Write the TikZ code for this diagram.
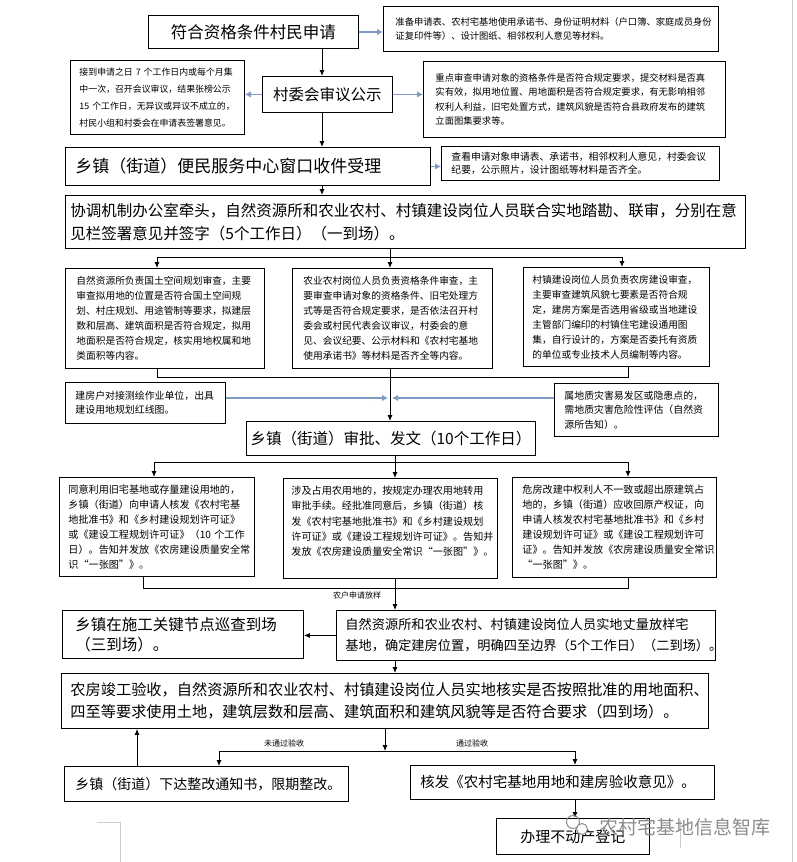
\documentclass[tikz,border=0pt]{standalone}
\usepackage{fontspec}
\setmainfont{Noto Sans CJK SC}
\usetikzlibrary{arrows.meta}
\definecolor{arrowblue}{RGB}{125,155,196}
\definecolor{wmgray}{RGB}{140,140,140}
\definecolor{markgray}{RGB}{205,205,205}
\newcommand{\myfs}[2]{\fontsize{#1}{#2}\selectfont}
\begin{document}
\begin{tikzpicture}[x=1pt,y=-1pt,
  box/.style={draw, line width=0.9pt, rectangle, anchor=north west, inner ysep=0pt},
  conn/.style={line width=0.9pt},
  arr/.style={line width=0.9pt, -{Latex[length=6pt,width=5pt]}},
  barr/.style={line width=1.8pt, draw=arrowblue, -{Latex[length=6pt,width=6.5pt]}},
  lbl/.style={font=\myfs{8}{9}, inner sep=0pt},
]
\useasboundingbox (0,0) rectangle (796,862);
\fill[white] (0,0) rectangle (796,862);

% ---------- boxes ----------
\node[box, minimum width=210pt, minimum height=33pt, font=\myfs{16.5}{20}] (b1) at (148,15) {符合资格条件村民申请};
\node[box, minimum width=335pt, minimum height=45pt, inner xsep=12pt, text width=311pt, align=left, font=\myfs{9.3}{13.5}] (b2) at (383,6)
  {准备申请表、农村宅基地使用承诺书、身份证明材料（户口簿、家庭成员身份\\证复印件等）、设计图纸、相邻权利人意见等材料。};
\node[box, minimum width=130pt, minimum height=36pt, font=\myfs{15.5}{18}] (b3) at (262,76) {村委会审议公示};
\node[box, minimum width=174pt, minimum height=74pt, inner xsep=9pt, text width=156pt, align=left, font=\myfs{8.9}{17}] (b4) at (70,60)
  {接到申请之日 7 个工作日内或每个月集\\中一次，召开会议审议，结果张榜公示\\15 个工作日，无异议或异议不成立的，\\村民小组和村委会在申请表签署意见。};
\node[box, minimum width=302pt, minimum height=76pt, inner xsep=12pt, text width=278pt, align=left, font=\myfs{9.3}{14.5}] (b5) at (423,61)
  {重点审查申请对象的资格条件是否符合规定要求，提交材料是否真\\实有效，拟用地位置、用地面积是否符合规定要求，有无影响相邻\\权利人利益，旧宅处置方式，建筑风貌是否符合县政府发布的建筑\\立面图集要求等。};
\node[box, minimum width=365pt, minimum height=38pt, inner xsep=10pt, text width=345pt, align=left, font=\myfs{17}{20}] (b6) at (65,147)
  {乡镇（街道）便民服务中心窗口收件受理};
\node[box, minimum width=278pt, minimum height=34pt, inner xsep=10pt, text width=258pt, align=left, font=\myfs{9.8}{13.5}] (b7) at (441,146)
  {查看申请对象申请表、承诺书，相邻权利人意见，村委会议\\纪要，公示照片，设计图纸等材料是否齐全。};
\node[box, minimum width=680pt, minimum height=53pt, inner xsep=5pt, text width=670pt, align=left, font=\myfs{15.5}{23}] (b8) at (65,195)
  {协调机制办公室牵头，自然资源所和农业农村、村镇建设岗位人员联合实地踏勘、联审，分别在意\\见栏签署意见并签字（5个工作日）（一到场）。};

\node[box, minimum width=199pt, minimum height=100pt, inner xsep=11pt, text width=177pt, align=left, font=\myfs{9.7}{15}] (c1) at (65,268)
  {自然资源所负责国土空间规划审查，主要\\审查拟用地的位置是否符合国土空间规\\划、村庄规划、用途管制等要求，拟建层\\数和层高、建筑面积是否符合规定，拟用\\地面积是否符合规定，核实用地权属和地\\类面积等内容。};
\node[box, minimum width=200pt, minimum height=100pt, inner xsep=11pt, text width=178pt, align=left, font=\myfs{9.7}{15}] (c2) at (292,268)
  {农业农村岗位人员负责资格条件审查，主\\要审查申请对象的资格条件、旧宅处理方\\式等是否符合规定要求，是否依法召开村\\委会或村民代表会议审议，村委会的意\\见、会议纪要、公示材料和《农村宅基地\\使用承诺书》等材料是否齐全等内容。};
\node[box, minimum width=186pt, minimum height=99pt, inner xsep=9pt, text width=168pt, align=left, font=\myfs{9.7}{15}] (c3) at (523,267)
  {村镇建设岗位人员负责农房建设审查，\\主要审查建筑风貌七要素是否符合规\\定，建房方案是否选用省级或当地建设\\主管部门编印的村镇住宅建设通用图\\集，自行设计的，方案是否委托有资质\\的单位或专业技术人员编制等内容。};

\node[box, minimum width=160pt, minimum height=41pt, inner xsep=10pt, text width=140pt, align=left, font=\myfs{9.9}{14.5}] (d1) at (65,382)
  {建房户对接测绘作业单位，出具\\建设用地规划红线图。};
\node[box, minimum width=164pt, minimum height=53pt, inner xsep=10pt, text width=144pt, align=left, font=\myfs{9.9}{14.5}] (d2) at (554,383)
  {属地质灾害易发区或隐患点的，\\需地质灾害危险性评估（自然资\\源所告知）。};
\node[box, minimum width=289pt, minimum height=34pt, font=\myfs{15.5}{18}] (e) at (246,421) {乡镇（街道）审批、发文（10个工作日）};

\node[box, minimum width=195pt, minimum height=99pt, inner xsep=9pt, text width=177pt, align=left, font=\myfs{10.1}{15}] (f1) at (59,477)
  {同意利用旧宅基地或存量建设用地的，\\乡镇（街道）向申请人核发《农村宅基\\地批准书》和《乡村建设规划许可证》\\或《建设工程规划许可证》（10 个工作\\日）。告知并发放《农房建设质量安全常\\识“一张图”》。};
\node[box, minimum width=214pt, minimum height=100pt, inner xsep=8pt, text width=198pt, align=left, font=\myfs{10.1}{15.3}] (f2) at (283,478)
  {涉及占用农用地的，按规定办理农用地转用\\审批手续。经批准同意后，乡镇（街道）核\\发《农村宅基地批准书》和《乡村建设规划\\许可证》或《建设工程规划许可证》。告知并\\发放《农房建设质量安全常识“一张图”》。\\ \mbox{}};
\node[box, minimum width=204pt, minimum height=100pt, inner xsep=10pt, text width=184pt, align=left, font=\myfs{10.1}{15}] (f3) at (512,477)
  {危房改建中权利人不一致或超出原建筑占\\地的，乡镇（街道）应收回原产权证，向\\申请人核发农村宅基地批准书》和《乡村\\建设规划许可证》或《建设工程规划许可\\证》。告知并发放《农房建设质量安全常识\\“一张图”》。};

\node[box, minimum width=241pt, minimum height=48pt, inner xsep=13pt, text width=215pt, align=left, font=\myfs{15.5}{20}] (g1) at (62,610)
  {乡镇在施工关键节点巡查到场\\（三到场）。};
\node[box, minimum width=379pt, minimum height=50pt, inner xsep=9pt, text width=361pt, align=left, font=\myfs{13.2}{21}] (g2) at (336,610)
  {自然资源所和农业农村、村镇建设岗位人员实地丈量放样宅\\基地，确定建房位置，明确四至边界（5个工作日）（二到场）。};
\node[box, minimum width=647pt, minimum height=55pt, inner xsep=9pt, text width=629pt, align=left, font=\myfs{15.2}{22}] (h) at (61,673)
  {农房竣工验收，自然资源所和农业农村、村镇建设岗位人员实地核实是否按照批准的用地面积、\\四至等要求使用土地，建筑层数和层高、建筑面积和建筑风貌等是否符合要求（四到场）。};
\node[box, minimum width=284pt, minimum height=35pt, inner xsep=11pt, text width=262pt, align=left, font=\myfs{14}{17}] (i1) at (64,766)
  {乡镇（街道）下达整改通知书，限期整改。};
\node[box, minimum width=304pt, minimum height=34pt, inner xsep=10pt, text width=284pt, align=left, font=\myfs{14.5}{17}] (i2) at (410,765)
  {核发《农村宅基地用地和建房验收意见》。};
\node[box, minimum width=153pt, minimum height=36pt, font=\myfs{15}{18}] (j) at (496,818) {办理不动产登记};

% ---------- columns / rows ----------
\coordinate (xa) at (322,0);
\coordinate (xb) at (390,0);
\coordinate (xc) at (395,0);
\coordinate (xl) at (157,0);
\coordinate (xr) at (622,0);
\coordinate (xr2) at (628,0);
\coordinate (xf1) at (154,0);
\coordinate (xf1b) at (143,0);
\coordinate (xh) at (385,0);
\coordinate (xi1) at (219,0);
\coordinate (xi2) at (575,0);
\coordinate (xup) at (137,0);
\coordinate (ya) at (0,257);
\coordinate (yb) at (0,377);
\coordinate (yd) at (0,398);
\coordinate (yc) at (0,462);
\coordinate (ye) at (0,588);
\coordinate (yf) at (0,751);

% ---------- connectors ----------
\draw[arr] (b1.south -| xa) -- (b3.north -| xa);
\draw[arr] (b3.south -| xa) -- (b6.north -| xa);
\draw[arr] (b6.south -| xa) -- (b8.north -| xa);
\draw[barr] (b1.east) -- (b2.west |- b1.east);
\draw[barr] (b3.west) -- (b4.east |- b3.west);
\draw[barr] (b3.east) -- (b5.west |- b3.east);
\draw[barr] (b6.east) -- (b7.west |- b6.east);

\draw[arr] (b8.south -| xb) -- (c2.north -| xb);
\draw[conn] (xl |- ya) -- (xr |- ya);
\draw[arr] (xl |- ya) -- (c1.north -| xl);
\draw[arr] (xr |- ya) -- (c3.north -| xr);
\draw[conn] (c1.south -| xl) -- (xl |- yb) -- (xr2 |- yb) -- (c3.south -| xr2);
\draw[arr] (c2.south -| xb) -- (e.north -| xb);
\draw[barr, shorten >=2pt] (d1.east |- yd) -- (xb |- yd);
\draw[barr, shorten >=2pt] (d2.west |- yd) -- (xb |- yd);

\draw[conn] (e.south -| xc) -- (xc |- yc);
\draw[conn] (xf1 |- yc) -- (xr2 |- yc);
\draw[arr] (xf1 |- yc) -- (f1.north -| xf1);
\draw[arr] (xc |- yc) -- (f2.north -| xc);
\draw[arr] (xr2 |- yc) -- (f3.north -| xr2);
\draw[conn] (f1.south -| xf1b) -- (xf1b |- ye) -- (xr2 |- ye) -- (f3.south -| xr2);
\draw[conn] (f2.south -| xc) -- (xc |- ye);
\draw[arr] (xc |- ye) -- (g2.north -| xc);
\node[lbl] (lb1) at (357,595) {农户申请放样};
\draw[arr] (g2.west) -- (g1.east |- g2.west);
\draw[arr] (g2.south -| xc) -- (h.north -| xc);

\draw[arr] (h.south -| xh) -- (xh |- yf);
\draw[conn] (xi1 |- yf) -- (xi2 |- yf);
\draw[arr] (xi1 |- yf) -- (i1.north -| xi1);
\draw[arr] (xi2 |- yf) -- (i2.north -| xi2);
\node[lbl] (lb2) at (284,743) {未通过验收};
\node[lbl] (lb3) at (472,743) {通过验收};
\draw[arr] (i1.north -| xup) -- (h.south -| xup);
\draw[arr] (i2.south -| xi2) -- (j.north -| xi2);

% ---------- page marks and watermark ----------
\draw[markgray, line width=0.8pt] (97,822) -- (120,822) -- (120,862);
\draw[markgray, line width=0.8pt] (680,820) -- (680,848);
\draw[markgray, line width=0.8pt] (792,0) -- (792,862);
\draw[wmgray, line width=1pt] (573,822) circle (6.5);
\draw[wmgray, line width=1pt, fill=white] (582,829) circle (5.5);
\node[font=\myfs{19}{21}, text=wmgray, inner sep=0pt] (wm) at (685,827) {农村宅基地信息智库};
\end{tikzpicture}
\end{document}
